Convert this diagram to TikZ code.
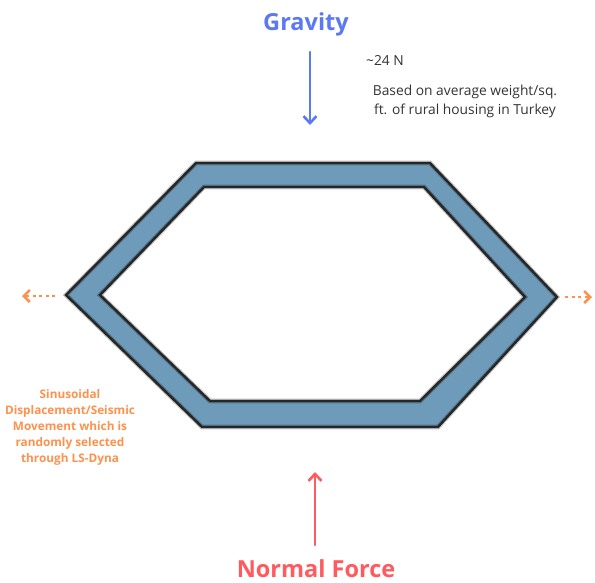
\documentclass[tikz,border=0pt]{standalone}
\usepackage{fontspec}
\setmainfont{Open Sans}
\usetikzlibrary{arrows.meta}
\definecolor{gravblue}{HTML}{5B78F5}
\definecolor{normred}{HTML}{FF5A5F}
\definecolor{seisor}{HTML}{FF914D}
\definecolor{bandblue}{HTML}{6E9BBA}
\tikzset{
  forcearrow/.style={line width=2.6pt, line cap=round, -{Straight Barb[length=7pt,width=13pt,line width=2.6pt]}},
  seisarrow/.style={seisor, line width=2.8pt, dash pattern=on 3pt off 3.5pt, -{Straight Barb[length=6pt,width=12pt,line width=2.6pt]}},
  bigtitle/.style={font=\fontsize{23.5}{26}\selectfont\bfseries, inner sep=0pt},
  note/.style={font=\fontsize{13.8}{19}\selectfont, inner sep=0pt, text=black!80},
  seistext/.style={seisor, font=\fontsize{11.8}{16}\selectfont\bfseries, align=center, inner sep=0pt},
  halo/.style={black, opacity=0.25, line width=4.6pt, line join=miter},
  edge/.style={black!85, line width=2.4pt, line join=miter}
}
\begin{document}
\begin{tikzpicture}[x=1pt,y=-1pt]
\useasboundingbox (0,0) rectangle (595,582);
% hexagon band
\fill[bandblue, even odd rule]
  (196,163) -- (430,163) -- (557,297) -- (438,427) -- (202,427) -- (66,295) -- cycle
  (204,187) -- (424,187) -- (525,297) -- (420,401) -- (210,401) -- (100,295) -- cycle;
\draw[halo] (196,163) -- (430,163) -- (557,297) -- (438,427) -- (202,427) -- (66,295) -- cycle;
\draw[halo] (204,187) -- (424,187) -- (525,297) -- (420,401) -- (210,401) -- (100,295) -- cycle;
\draw[edge] (196,163) -- (430,163) -- (557,297) -- (438,427) -- (202,427) -- (66,295) -- cycle;
\draw[edge] (204,187) -- (424,187) -- (525,297) -- (420,401) -- (210,401) -- (100,295) -- cycle;
% gravity
\node[bigtitle, text=gravblue] (grav) at (306,24) {Gravity};
\coordinate (gs) at (310,52);
\coordinate (ge) at (310,125);
\draw[forcearrow, gravblue] (gs) -- (ge);
\node[note, anchor=west] (w) at (366,60) {\textasciitilde 24 N};
\node[note, align=center] (basis) at (465,101) {Based on average weight/sq.\\ ft. of rural housing in Turkey};
% normal force
\node[bigtitle, text=normred] (norm) at (316,569) {Normal Force};
\coordinate (ns) at (315,545);
\coordinate (ne) at (315,472);
\draw[forcearrow, normred] (ns) -- (ne);
% seismic
\coordinate (ls) at (55,296);
\coordinate (le) at (22,296);
\draw[seisarrow] (ls) -- (le);
\coordinate (rs) at (565,297);
\coordinate (re) at (592,297);
\draw[seisarrow] (rs) -- (re);
\node[seistext] (seis) at (70,427) {Sinusoidal\\Displacement/Seismic\\Movement which is\\randomly selected\\through LS-Dyna};
\end{tikzpicture}
\end{document}
